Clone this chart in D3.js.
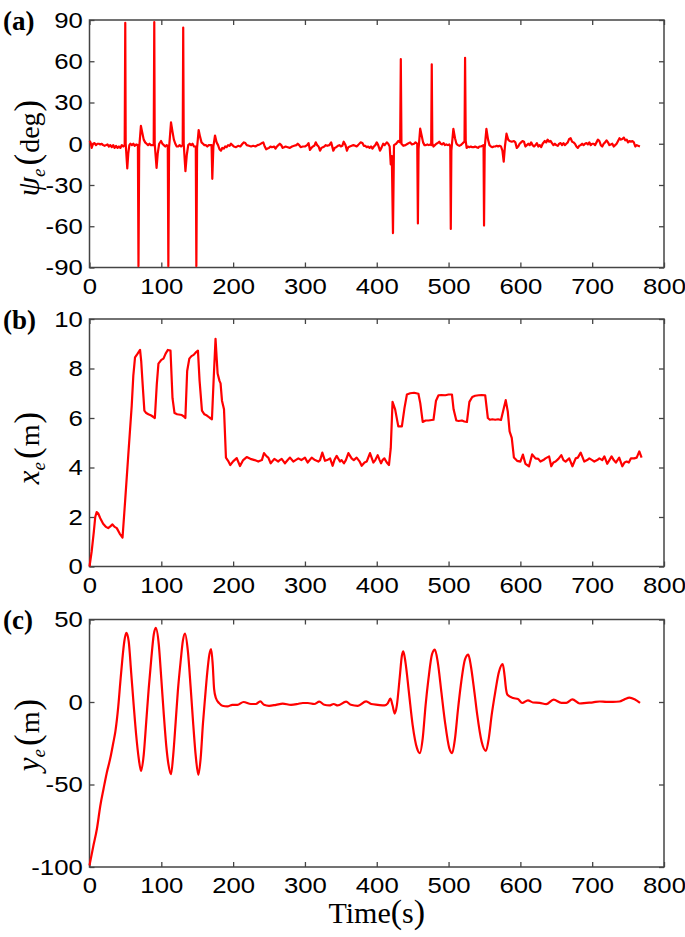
<!DOCTYPE html>
<html>
<head>
<meta charset="utf-8">
<script src="https://cdn.jsdelivr.net/npm/d3@7"></script>
<style>
  body { margin: 0; background: #fff; }
  .tick text { font-family: "Liberation Sans", Arial, sans-serif; font-size: 23px; fill: #000; }
  .tick line { stroke: #444; stroke-width: 1.3; }
</style>
</head>
<body>
<div id="chart"></div>
<script>
var width = 685,
    height = 937;

// axis ticks
var timeTicks = [0, 100, 200, 300, 400, 500, 600, 700, 800];
var psiTicks = [-90, -60, -30, 0, 30, 60, 90];
var xeTicks = [0, 2, 4, 6, 8, 10];
var yeTicks = [-100, -50, 0, 50];

// (a) heading error psi_e [time s, deg]
var psi = [
  [0,2],[1.5,1],[3,-3],[5,0],[7,0.5],[9,-1],[11,0],[13,0],[15,-0.5],[17,0],[19,-1],[21,-1.5],[23,-1],
  [25,-0.5],[27,-2],[29,-1],[31,-2.5],[33,-1],[35,-3],[37,-1.5],[39,-3],[41,-2],[43,-3],[45,-1],[47,-2],
  [49,-1],[49.8,88],[50.4,0],[52.6,-18],[54,-7],[55.5,-1],[57,0],[59,-1],[61,0],[63,-1.5],[65,-0.5],
  [67.4,-1],[68.2,-89],[69.2,-3],[71.6,13],[73.5,8],[75.5,3],[77.5,1],[79.5,0],[81.5,-1],[83.5,0],
  [85.5,-1],[87.5,-1],[89.4,-1],[90.2,88.5],[90.8,0],[93.4,-17.5],[95,-7],[97,0],[99.6,2],[101.5,0],
  [103.5,-1],[105.5,-2],[107.5,-1],[109,-1.5],[109.8,-89],[110.8,-3],[113.5,15.5],[115.5,9],[117.5,3],
  [119.5,0],[121.5,-2],[123.5,-2],[125.5,-1],[127.5,-2],[129.8,-1],[130.5,84.5],[131.2,0],[133.6,-20],
  [135.5,-8],[137.5,-1],[139.5,0],[141.5,-1],[143.5,0],[145.5,-2],[148,-2],[148.8,-89],[149.8,-3],
  [152,10],[154,5],[156,1],[158,0],[160,-1],[162,-1],[164,-2],[166,-1],[168,-1],[170,-1],[171,-25.5],
  [172.5,-2],[174.8,6],[177,1],[179,-1],[181,-4],[183,-5],[185,-3],[187,-3.5],[189,-2],[191,-2.5],
  [193,-1],[195,-1.5],[197,0],[199,-1],[201,-2],[204,-2.5],[207,-1.5],[210,-2],[213,0],[215,1],
  [217,0.5],[219,-1],[222,-1.5],[225,-2],[228,-1.5],[231,-2],[234,-1],[237,-0.5],[240,0.5],[242,1],
  [244,-2],[246,-4],[248,-3.5],[250,-3],[252,-2],[254,-2.5],[257,-2],[259,-3.5],[261,-2],[263,-1],
  [265,0],[267,-1],[269,-3],[271,-2.5],[273,-2],[276,-2.5],[279,-3],[282,-2],[285,-1.5],[288,-1],
  [290,0],[292,-1],[294,-2.5],[297,-2],[300,-2],[303,-1],[305,0.5],[307,-4.5],[309,-3],[311,-2],
  [313,-1.5],[315,1],[317,-1],[319,-2],[321,-5],[323,-3],[325,-2.5],[327,-2],[329,-1],[331,-1.5],
  [334,-1],[336.5,1],[339.5,-5],[341.5,-3],[343.5,-2.5],[346,-1.5],[348,-1],[350,-2],[352,-1.5],
  [354,1.5],[356.5,-1],[358.5,-5],[360.5,-2.5],[362.5,-2],[365,-1.5],[367.5,-1],[370,-1.5],[372,-2],
  [374,-1],[377.5,1],[380,0.5],[382,-1.5],[384,-1.5],[386,-2.5],[388,-2],[390,-3],[392,-2],[394,-3.5],
  [396,-2],[398,-1],[400,1],[402,-1],[404.5,-5],[406.5,-3],[409,0],[411,-1],[414,1],[416,0],[418,-2],
  [419.5,-15],[421,-9],[422.6,-65],[424,-1],[427,0],[430,2],[432.6,1],[433.5,61.5],[434.4,0],
  [437,-1.5],[440,-1],[443,0],[446.5,1],[449,-0.5],[452,0],[454,1],[456.4,0],[457.3,-58],[458.2,-4],
  [460.5,11],[462.5,6],[464.5,1],[466.5,-1],[468.5,-1],[470.5,-0.5],[472.5,-1],[474.5,-0.5],[475.8,-1],
  [476.6,57.8],[477.4,0],[479,-2],[481,-1],[483,0],[485,0.5],[487,1.5],[489,0],[491,-0.5],[493,0.5],
  [495,-1],[497,-0.5],[499,-1],[501,-0.5],[502.4,-2],[503.1,-62],[503.9,-5],[506.7,10.8],[509,4],
  [511,0],[513,-1],[515,-1.5],[517,-1],[519,0],[521,1],[522.2,1.5],[523,62.5],[523.9,2],[525.2,-3],
  [527,-2],[529,-2.5],[531,-2],[533,-2.5],[535,-2.5],[537,-2],[539,-2.5],[541,-3],[543,-2],[545,-2],
  [547,-1.5],[548.7,-1],[549.4,-59.5],[550.3,-3],[552.7,10.8],[555,3],[557,-1],[559,-2],[561,-2.5],
  [563,-2],[565,-2],[567,-1.5],[569,-2],[571,-1.5],[573,-2],[575,-5],[576.8,-13],[578.5,-2],[580.7,7.3],
  [583,3],[585,2],[588,1.5],[591,2],[593,1],[595,-3],[597,-2],[599,0],[601,1],[603,2],[605,1.5],[607,-2],
  [609,-1],[611,0],[613,-1],[615,1],[617,-1],[619,-2],[621,-1],[623,0.5],[625,-2],[627,-1],[629,-2.5],
  [631,0],[634,2],[636,1],[638,3],[640,1.5],[642,2],[644,0.5],[646,-1],[648,0],[650,-1],[652,-1.5],
  [654,0],[656,0.5],[658,-1],[660,0.5],[662,-1],[664,0],[666,1],[668,3.5],[670,4],[672,1.5],[674,1],
  [676,0],[678,-2],[680,-3],[682,-1.5],[684,-1],[686,0],[688,-1],[690,0],[692,0.5],[694,-0.5],[696,1],
  [698,-1],[700,0],[702,0],[704,-1],[706,1],[708,3],[710,2],[712,-1],[714,-2],[716,0],[718,1],[720,2.5],
  [722,1],[724,-1],[726,-0.5],[728,0],[730,-2],[732,-1],[734,0],[736,2],[738,4],[740,3],[742,3.5],
  [744,4.5],[746,2.5],[748,3],[750,1],[752,2],[754,1.5],[756,2],[758,1],[760,-2],[762,-1],[764,-1.5],
  [766.5,-2]
];

// (b) along-track error x_e [time s, m]
var xe = [
  [0,0],[3,0.6],[6,1.4],[8,2.0],[10,2.2],[12,2.15],[15,1.95],[19,1.73],[23,1.6],[26,1.55],[29,1.62],
  [32,1.7],[35,1.6],[38,1.55],[42,1.33],[46,1.17],[49.5,2.6],[54,4.5],[58.8,6.5],[61,7.7],[63.4,8.45],
  [67,8.6],[70.4,8.75],[72,8.3],[73.7,7.5],[76.4,6.3],[79,6.2],[82,6.15],[86,6.1],[91,6.0],[93.7,7.36],
  [96,8.2],[100,8.35],[103,8.4],[106,8.6],[109,8.75],[112.8,8.72],[115.6,6.8],[118.4,6.2],[122,6.15],
  [128.6,6.12],[132,6.05],[133.5,6.0],[136,7.9],[139,8.4],[142,8.5],[145,8.55],[148,8.65],[151,8.72],
  [153.3,7.5],[156.6,6.3],[160,6.15],[163.5,6.1],[167,6.02],[170.5,5.95],[172.8,7.5],[175.5,9.2],
  [178.4,7.8],[181,7.5],[182.5,7.4],[184.5,6.7],[187.3,6.35],[190,4.4],[193,4.27],[196,4.1],[200,4.25],
  [205,4.38],[209.6,4.06],[214,4.3],[218.9,4.42],[224,4.35],[230,4.3],[235,4.24],[240,4.3],[243,4.58],
  [246.7,4.45],[249,4.4],[252.3,4.17],[257.4,4.35],[260,4.3],[262.9,4.24],[265,4.3],[267.6,4.35],
  [272.2,4.17],[276,4.3],[279.2,4.4],[283.8,4.24],[287,4.3],[290.8,4.37],[295,4.3],[300,4.4],[303.8,4.2],
  [309.4,4.4],[314,4.3],[318.6,4.24],[321,4.3],[324.2,4.6],[328,4.27],[331,4.3],[335,4.37],[338.6,4.07],
  [341,4.3],[344.2,4.47],[348.8,4.24],[351,4.3],[354.4,4.17],[357,4.3],[360.5,4.58],[365,4.37],[368,4.3],
  [372,4.4],[376,4.25],[379,4.07],[383,4.2],[386,4.24],[390.6,4.58],[395.3,4.2],[398,4.3],[401.3,4.5],
  [404,4.3],[406,4.17],[408,4.3],[410.6,4.37],[414,4.2],[417,4.1],[419.5,4.78],[422,6.65],[425.6,6.35],
  [430,5.66],[435,5.66],[438.6,6.4],[442,6.95],[446.6,7.0],[452,7.02],[458,6.98],[460.6,6.6],[464,5.84],
  [468,5.9],[472,5.9],[479,5.93],[482.5,6.7],[486,6.92],[490,6.93],[495.5,6.92],[500,6.95],[504.7,6.95],
  [507,6.35],[510.8,5.9],[514,5.88],[518.6,5.9],[522,5.86],[525.6,5.84],[529,6.65],[533,6.85],[537,6.9],
  [542,6.92],[546,6.93],[551,6.92],[554.7,6.0],[557.5,5.93],[561,5.95],[565,5.93],[569,5.95],[573,5.92],
  [577,6.4],[579.6,6.72],[582.5,6.25],[585,5.46],[588,5.2],[591,4.4],[595.4,4.27],[600,4.24],[603.5,4.52],
  [607,4.15],[612,4.05],[616.4,4.53],[621,4.37],[625,4.35],[628,4.24],[632,4.3],[635,4.37],[640,4.45],
  [643,4.05],[646,4.2],[649,4.24],[653,4.35],[657,4.5],[660,4.3],[663,4.24],[668,4.37],[672.5,4.05],
  [677,4.37],[680,4.4],[684,4.6],[689,4.24],[693,4.3],[696,4.37],[700,4.3],[703,4.24],[707,4.3],
  [710,4.37],[714,4.3],[717,4.45],[721,4.15],[724,4.3],[727,4.45],[730,4.3],[733,4.2],[737.6,4.4],
  [742,4.05],[745,4.2],[748,4.24],[751,4.2],[754,4.37],[758.5,4.37],[762,4.4],[765.6,4.65],[768.8,4.4]
];

// (c) cross-track error y_e [time s, m]
var ye = [
  [0,-99],[5,-88],[10.4,-76.7],[15,-63],[19.7,-52.3],[24,-43],[29,-34],[33,-25],[36,-18],[40,-3],
  [43,12.5],[46,27],[48.5,36.8],[51.3,41.9],[54.6,36.8],[58,18],[61.5,-1.7],[65,-20],[68.5,-34],
  [71.8,-41.8],[75.5,-32],[79,-12],[82.5,8.4],[86,26],[89.5,40.9],[92.3,44.9],[96.5,34.8],[100,14],
  [103.5,-7.8],[107,-27],[110,-38],[113.5,-43.8],[116.6,-32],[120,-12],[123,6.4],[127,25],[130,37],
  [133,41.5],[137,30.8],[141,8],[144.5,-13.8],[148,-33],[151.6,-44.2],[154.8,-34],[158,-13],[161,3],
  [164,18],[167,29],[169.4,32.1],[171.6,22.6],[173.5,8],[176,2.4],[180.5,-0.7],[185,-2.3],[192,-2.7],
  [199,-1.7],[206,-1.7],[214.5,0],[224.8,-1.2],[231.7,-1.2],[237.8,0.4],[243,-1.7],[250,-2.3],
  [259.7,-1.7],[269,-1],[280.6,-1.7],[290,-1.2],[297,-0.6],[304,-0.6],[313,-1.2],[320,0.2],[327,-1.7],
  [334,-2.1],[340,-1.2],[345.6,-2.1],[357.3,0.2],[364,-1.7],[373.6,-2.3],[385.2,0.4],[392.2,-1.2],
  [401.5,-1.7],[410.8,-2.1],[415,-1],[419,2],[422,-2],[425,-7],[428,-2],[432,15],[435,28],[437,30.7],
  [440,24],[445,5],[450,-14],[456,-28],[460,-31],[464,-22],[468,-2],[472,14],[477,29],[481,31.7],
  [485,24],[490,6],[495,-12],[501,-28],[505,-31],[509,-22],[513,-5],[517,10],[523,26],[527.5,28.7],
  [531,22],[536,6],[540,-8],[546,-24],[552,-29.7],[556,-22],[560,-8],[565,6],[570,18],[575.4,23],
  [578,16],[580,8],[582,4.4],[590,2.4],[596.6,1.8],[602.6,-0.6],[610.5,1],[617.5,-0.3],[626.8,-0.5],
  [636,-1.3],[646.3,1.4],[657,-0.5],[664,-0.5],[672.4,1.6],[682.6,-0.9],[692,-0.5],[701,-0.2],
  [710.4,0.3],[719.7,0.1],[729,0.1],[738,0.3],[745,1.6],[752,2.6],[759,1.6],[766.6,-0.6]
];

var left = 89.5, right = 664, plotH = 247.5;

var panels = [
  {tag: "(a)", top: 20,  data: psi, domain: [-90, 90],  ticks: psiTicks, sym: "\u03c8", unit: "deg", labelY: 148, curve: d3.curveLinear},
  {tag: "(b)", top: 319, data: xe,  domain: [0, 10],    ticks: xeTicks,  sym: "x",      unit: "m",   labelY: 448, curve: d3.curveLinear},
  {tag: "(c)", top: 619.5, data: ye, domain: [-100, 50], ticks: yeTicks, sym: "y",      unit: "m",   labelY: 735, curve: d3.curveMonotoneX}
];

var svg = d3.select("#chart")
  .append("svg")
  .attr("width", width)
  .attr("height", height);

var x = d3.scaleLinear().domain([0, 800]).range([left, right]);

panels.forEach(function(p){
  var y = d3.scaleLinear().domain(p.domain).range([p.top + plotH, p.top]);
  var g = svg.append("g");

  g.append("g")
    .attr("transform", "translate(0," + (p.top + plotH) + ")")
    .call(d3.axisBottom(x).tickValues(timeTicks).tickSize(-5).tickPadding(10)
      .tickFormat(function(d){ return String(d) }));
  g.append("g")
    .attr("transform", "translate(0," + p.top + ")")
    .call(d3.axisTop(x).tickValues(timeTicks).tickSize(-5).tickFormat(""));
  g.append("g")
    .attr("transform", "translate(" + left + ",0)")
    .call(d3.axisLeft(y).tickValues(p.ticks).tickSize(-5).tickPadding(6)
      .tickFormat(function(d){ return String(d) }));
  g.append("g")
    .attr("transform", "translate(" + right + ",0)")
    .call(d3.axisRight(y).tickValues(p.ticks).tickSize(-5).tickFormat(""));

  g.selectAll(".domain").remove();
  g.selectAll(".tick text").attr("transform", "scale(1.12,1)");

  // frame
  g.append("rect")
    .attrs ? null : null;
  g.append("rect")
    .attr("x", left).attr("y", p.top)
    .attr("width", right - left).attr("height", plotH)
    .attr("fill", "none").attr("stroke", "#444").attr("stroke-width", 1.5);

  var line = d3.line()
    .x(function(d){ return x(d[0]) })
    .y(function(d){ return y(d[1]) })
    .curve(p.curve);

  g.append("path")
    .datum(p.data)
    .attr("d", line)
    .attr("fill", "none")
    .attr("stroke", "#ff0000")
    .attr("stroke-width", 2.2)
    .attr("stroke-linejoin", "round");

  // panel tag
  g.append("text")
    .attr("x", 3).attr("y", p.top + 9.5)
    .attr("font-family", "Liberation Serif, Times New Roman, serif")
    .attr("font-weight", "bold")
    .attr("font-size", 27)
    .text(p.tag);

  // y label
  var lab = g.append("text")
    .attr("transform", "translate(39," + p.labelY + ") rotate(-90)")
    .attr("text-anchor", "middle")
    .attr("font-family", "Liberation Serif, Times New Roman, serif")
    .attr("fill", "#000");
  lab.append("tspan").attr("font-style", "italic").attr("font-size", 31).text(p.sym);
  lab.append("tspan").attr("font-style", "italic").attr("font-size", 19).attr("dy", 6).text("e");
  lab.append("tspan").attr("font-size", 35).attr("dy", -6).attr("dx", 3).text("(");
  lab.append("tspan").attr("font-size", 28).attr("dx", 1).text(p.unit);
  lab.append("tspan").attr("font-size", 35).attr("dx", 1).text(")");
});

// x label
var xl = svg.append("text")
  .attr("x", (left + right) / 2).attr("y", 923)
  .attr("text-anchor", "middle")
  .attr("font-family", "Liberation Serif, Times New Roman, serif")
  .attr("fill", "#000");
xl.append("tspan").attr("font-size", 30).text("Time");
xl.append("tspan").attr("font-size", 34).text("(");
xl.append("tspan").attr("font-size", 30).text("s");
xl.append("tspan").attr("font-size", 34).text(")");
</script>
</body>
</html>
